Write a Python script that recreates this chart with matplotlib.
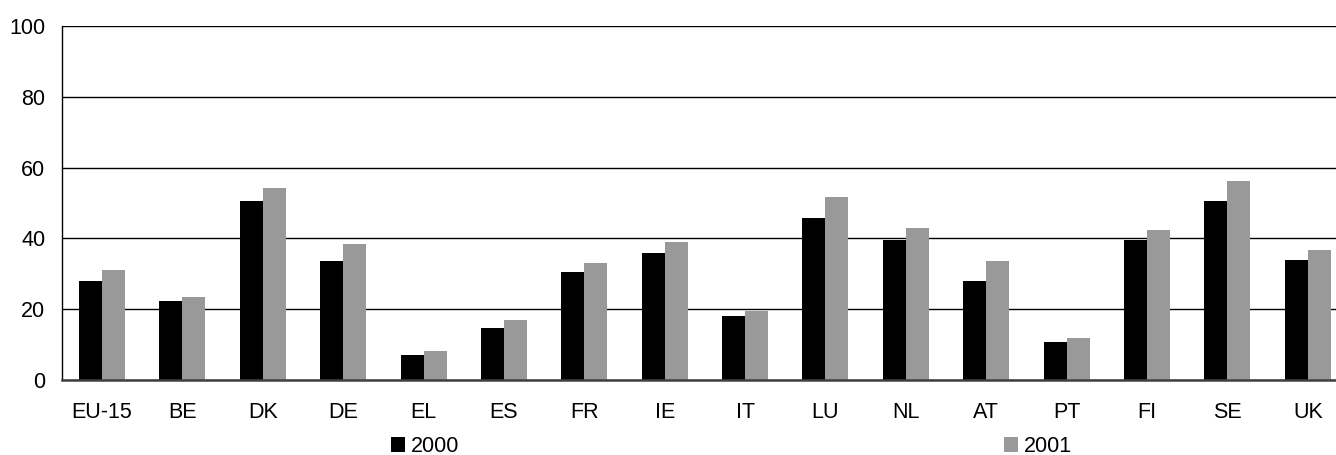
import matplotlib.pyplot as plt
import numpy as np

# values
countries = ['EU-15', 'BE', 'DK', 'DE', 'EL', 'ES', 'FR', 'IE', 'IT', 'LU', 'NL', 'AT', 'PT', 'FI', 'SE', 'UK']
y2000 = [27.9, 22.3, 50.6, 33.6, 7.0, 14.6, 30.5, 35.8, 18.0, 45.8, 39.5, 27.9, 10.7, 39.5, 50.6, 33.9]
y2001 = [31.0, 23.4, 54.2, 38.4, 8.1, 16.9, 33.0, 39.0, 19.4, 51.7, 42.9, 33.6, 11.8, 42.4, 56.2, 36.7]
yticks = [0, 20, 40, 60, 80, 100]

plt.rcParams['font.family'] = ['Liberation Sans', 'DejaVu Sans']

W, H = 1336, 455
fig = plt.figure(figsize=(W / 100, H / 100), dpi=100)
# right edge of the plot runs past the picture, as in the original
left, right = 61.8, 1348
bottom, top = 379.7, 26.3
ax = fig.add_axes([left / W, 1 - bottom / H, (right - left) / W, (bottom - top) / H])

x = np.arange(len(countries))
bw = 0.286
ax.bar(x - bw / 2, y2000, bw, color='black', label='2000', zorder=3)
ax.bar(x + bw / 2, y2001, bw, color='#999999', label='2001', zorder=3)

ax.set_xlim(-0.5, len(countries) - 0.5)
ax.set_ylim(0, 100)
ax.set_yticks(yticks)
ax.set_xticks(x)
ax.set_xticklabels(countries)
ax.yaxis.grid(True, color='black', linewidth=1.0, zorder=0)
ax.set_axisbelow(True)

for s in ['top', 'right']:
	ax.spines[s].set_visible(False)
ax.spines['left'].set_color('black')
ax.spines['left'].set_linewidth(1.0)
ax.spines['bottom'].set_color('#404040')
ax.spines['bottom'].set_linewidth(1.8)
ax.spines['bottom'].set_zorder(4)

ax.tick_params(axis='both', length=0, labelsize=15.5, colors='black')
ax.tick_params(axis='y', pad=12)
ax.tick_params(axis='x', pad=16)

leg = fig.legend(loc='center left', bbox_to_anchor=(391 / W, 1 - 446.5 / H), ncol=2,
	frameon=False, fontsize=15.5, handlelength=0.67, handleheight=0.67,
	handletextpad=0.25, columnspacing=25.3, borderpad=0, borderaxespad=0)

fig.savefig('out.png', dpi=100)
